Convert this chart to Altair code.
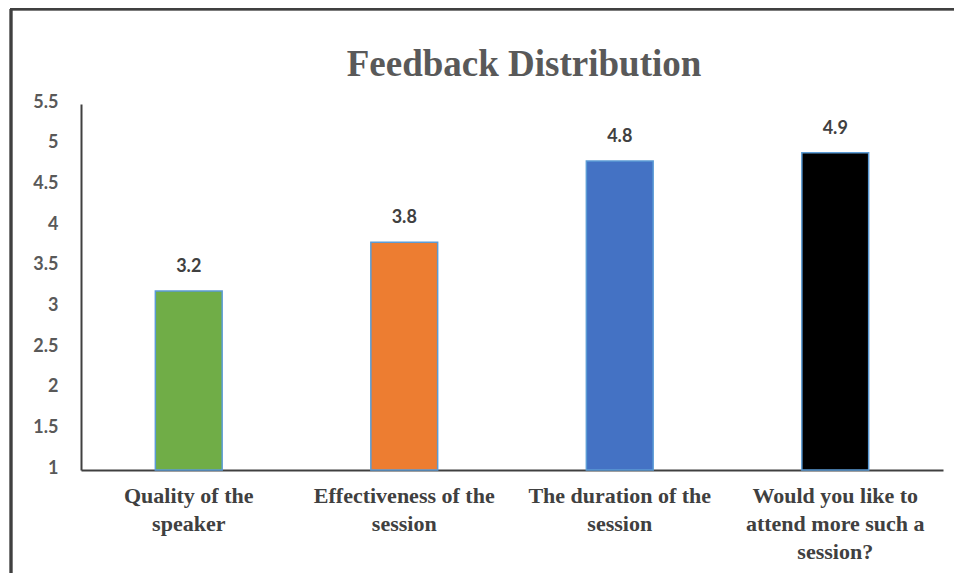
import altair as alt
import pandas as pd

title_text = "Feedback Distribution"
categories = [
    "Quality of the|speaker",
    "Effectiveness of the|session",
    "The duration of the|session",
    "Would you like to|attend more such a|session?",
]
values = [3.2, 3.8, 4.8, 4.9]
colors = ["#70AD47", "#ED7D31", "#4472C4", "#000000"]
y_ticks = [1, 1.5, 2, 2.5, 3, 3.5, 4, 4.5, 5, 5.5]

df = pd.DataFrame({"category": categories, "value": values})

W, H = 862, 366

x_enc = alt.X(
    "category:N",
    sort=categories,
    scale=alt.Scale(paddingInner=0.69, paddingOuter=0.345),
    axis=alt.Axis(
        title=None,
        labelExpr="split(datum.label, '|')",
        labelAngle=0,
        labelFont="Liberation Serif",
        labelFontWeight="bold",
        labelFontSize=22,
        labelLineHeight=28,
        labelColor="#404040",
        labelPadding=15,
        ticks=False,
        domainColor="#404040",
        domainWidth=2,
        labelLimit=300,
    ),
)
y_enc = alt.Y(
    "value:Q",
    scale=alt.Scale(domain=[1, 5.5], nice=False, zero=False),
    axis=alt.Axis(
        title=None,
        values=y_ticks,
        format="~g",
        grid=False,
        ticks=False,
        labelPadding=23,
        labelFont="Lato",
        labelFontWeight="bold",
        labelFontSize=18,
        labelColor="#595959",
        labelOffset=-2,
        domainColor="#404040",
        domainWidth=2,
    ),
)

bars = alt.Chart(df).mark_bar(stroke="#5B9BD5", strokeWidth=1.5).encode(
    x=x_enc,
    y=y_enc,
    y2=alt.datum(1),
    color=alt.Color(
        "category:N",
        scale=alt.Scale(domain=categories, range=colors),
        legend=None,
    ),
)

labels = alt.Chart(df).mark_text(
    baseline="alphabetic",
    dy=-19,
    font="Lato",
    fontWeight="bold",
    fontSize=18,
    color="#404040",
).encode(
    x=alt.X("category:N", sort=categories),
    y="value:Q",
    text=alt.Text("value:Q", format=".1f"),
)

title = alt.Chart(pd.DataFrame({"t": [title_text]})).mark_text(
    baseline="alphabetic",
    align="center",
    font="Liberation Serif",
    fontWeight="bold",
    fontSize=37,
    color="#595959",
).encode(text="t:N", x=alt.value(W / 2 + 12), y=alt.value(-28))

frame_left = alt.Chart(df).mark_rule(color="#404040", strokeWidth=2.5).encode(
    x=alt.value(-70), y=alt.value(-95), y2=alt.value(H + 110)
)
frame_top = alt.Chart(df).mark_rule(color="#404040", strokeWidth=2.5).encode(
    x=alt.value(-71), x2=alt.value(W + 20), y=alt.value(-95)
)

chart = (
    alt.layer(bars, labels, title, frame_left, frame_top)
    .properties(
        width=W,
        height=H,
        autosize=alt.AutoSizeParams(type="none"),
        padding={"left": 73, "top": 96, "right": 11, "bottom": 103},
        view=alt.ViewBackground(stroke="transparent", strokeOpacity=0),
    )
    .configure_view(stroke="transparent", strokeOpacity=0, strokeWidth=0)
    .configure(background="white")
)

chart.save("out.html", embed_options={"renderer": "svg", "actions": False})
